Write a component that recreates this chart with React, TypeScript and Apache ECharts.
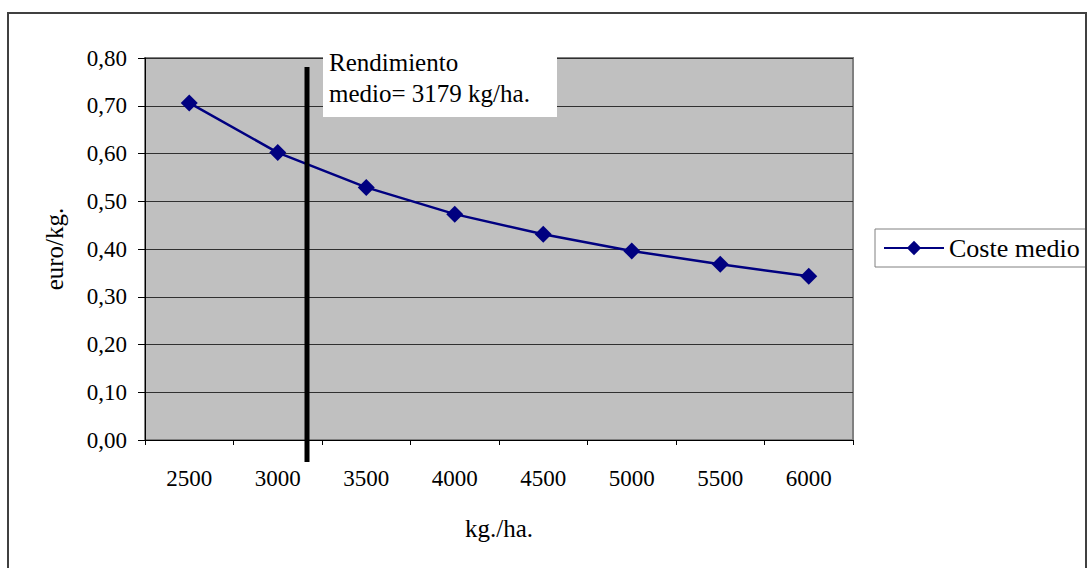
import React, { useEffect, useRef } from "react";
import * as echarts from "echarts";

const categories = ["2500", "3000", "3500", "4000", "4500", "5000", "5500", "6000"];
const costeMedio = [0.706, 0.602, 0.529, 0.473, 0.431, 0.396, 0.368, 0.343];
const yTicks = { min: 0, max: 0.8, interval: 0.1 };
const seriesName = "Coste medio";
const xTitle = "kg./ha.";
const yTitle = "euro/kg.";
const noteLines = ["Rendimiento", "medio= 3179 kg/ha."];

const FONT = "Liberation Serif";

export default function App() {
  const ref = useRef<HTMLDivElement>(null);
  useEffect(() => {
    if (!ref.current) return;
    const chart = echarts.init(ref.current, null, { renderer: "svg" });
    chart.setOption({
      animation: false,
      backgroundColor: "#ffffff",
      textStyle: { fontFamily: FONT, color: "#000" },
      grid: {
        left: 145,
        right: 234,
        top: 58,
        bottom: 128,
        show: true,
        backgroundColor: "#c0c0c0",
        borderColor: "#808080",
        borderWidth: 2,
      },
      legend: {
        left: 875,
        top: 229,
        orient: "vertical",
        data: [seriesName],
        itemWidth: 60,
        itemHeight: 18,
        itemGap: 0,
        padding: [6, 10, 6, 8],
        borderColor: "#808080",
        borderWidth: 1,
        backgroundColor: "#ffffff",
        textStyle: { fontFamily: FONT, fontSize: 26, color: "#000" },
      },
      xAxis: {
        type: "category",
        data: categories,
        boundaryGap: true,
        name: xTitle,
        nameLocation: "middle",
        nameGap: 76,
        nameTextStyle: { fontFamily: FONT, fontSize: 25, color: "#000" },
        axisLine: { show: true, lineStyle: { color: "#000", width: 1 } },
        axisTick: { show: true, length: 5, lineStyle: { color: "#000" }, alignWithLabel: false },
        axisLabel: { fontFamily: FONT, fontSize: 23, color: "#000", margin: 27 },
        splitLine: { show: false },
      },
      yAxis: {
        type: "value",
        min: yTicks.min,
        max: yTicks.max,
        interval: yTicks.interval,
        name: yTitle,
        nameLocation: "middle",
        nameGap: 78,
        nameRotate: 90,
        nameTextStyle: { fontFamily: FONT, fontSize: 25, color: "#000" },
        axisLine: { show: true, lineStyle: { color: "#000", width: 1 } },
        axisTick: { show: true, length: 7, lineStyle: { color: "#000" } },
        axisLabel: {
          fontFamily: FONT,
          fontSize: 23,
          color: "#000",
          margin: 18,
          formatter: (v: number) => v.toFixed(2).replace(".", ","),
        },
        splitLine: { show: true, lineStyle: { color: "#303030", width: 1 } },
      },
      series: [
        {
          name: seriesName,
          type: "line",
          data: costeMedio,
          symbol: "diamond",
          symbolSize: 17,
          showSymbol: true,
          lineStyle: { color: "#000080", width: 2.5 },
          itemStyle: { color: "#000080" },
          z: 3,
        },
      ],
      graphic: [
        {
          type: "rect",
          shape: { x: 8, y: 13, width: 1078, height: 570 },
          style: { fill: "none", stroke: "#404040", lineWidth: 2 },
          silent: true,
          z: 100,
        },
        {
          type: "line",
          shape: { x1: 307, y1: 67, x2: 307, y2: 462 },
          style: { stroke: "#000", lineWidth: 5 },
          z: 50,
        },
        {
          type: "rect",
          shape: { x: 323, y: 55, width: 234, height: 62 },
          style: { fill: "#ffffff", stroke: "none" },
          z: 60,
        },
        {
          type: "text",
          x: 329,
          y: 62,
          style: {
            text: noteLines[0],
            fontFamily: FONT,
            fontSize: 25,
            fill: "#000",
            verticalAlign: "middle",
            align: "left",
          },
          z: 61,
        },
        {
          type: "text",
          x: 329,
          y: 93,
          style: {
            text: noteLines[1],
            fontFamily: FONT,
            fontSize: 25,
            fill: "#000",
            verticalAlign: "middle",
            align: "left",
          },
          z: 61,
        },
      ],
    });
    return () => chart.dispose();
  }, []);
  return (
    <div
      ref={ref}
      style={{ position: "fixed", left: 0, top: 0, width: 1087, height: 568 }}
    />
  );
}
